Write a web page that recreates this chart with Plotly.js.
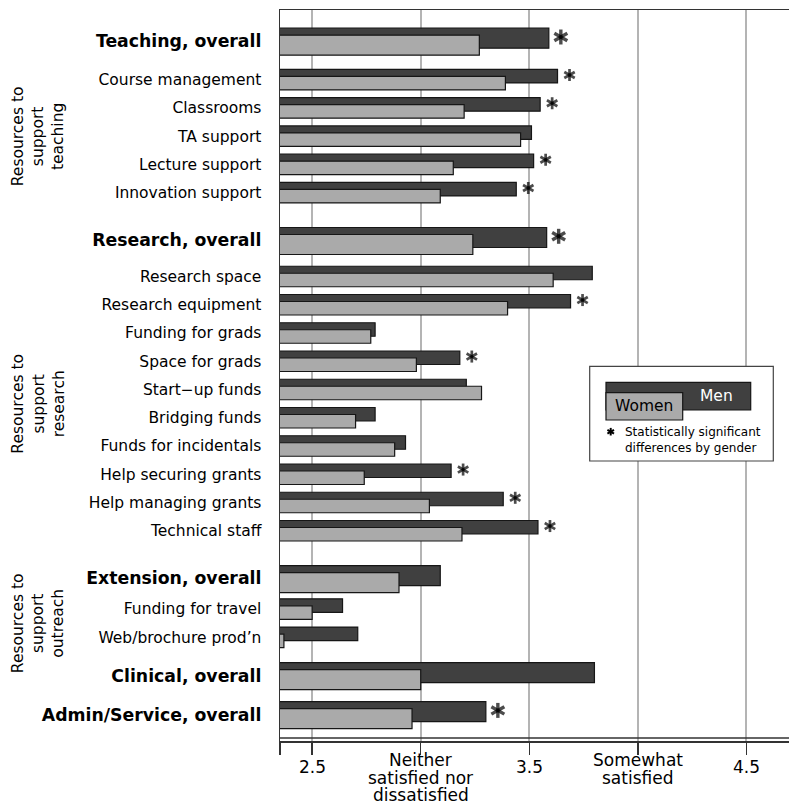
<!DOCTYPE html>
<html>
<head>
<meta charset="utf-8">
<script src="https://cdn.plot.ly/plotly-3.0.1.min.js"></script>
<style>html,body{margin:0;padding:0;background:#fff;}#chart{width:789px;height:801px;}</style>
</head>
<body>
<div id="chart"></div>
<script>
// ---------- DATA ----------
const categories = [
  "Teaching, overall", "Course management", "Classrooms", "TA support", "Lecture support", "Innovation support",
  "Research, overall", "Research space", "Research equipment", "Funding for grads", "Space for grads",
  "Start\u2212up funds", "Bridging funds", "Funds for incidentals", "Help securing grants", "Help managing grants", "Technical staff",
  "Extension, overall", "Funding for travel", "Web/brochure prod\u2019n",
  "Clinical, overall",
  "Admin/Service, overall"
];
const menValues = [3.59, 3.63, 3.55, 3.51, 3.52, 3.44,
                   3.58, 3.79, 3.69, 2.79, 3.18, 3.21, 2.79, 2.93, 3.14, 3.38, 3.54,
                   3.09, 2.64, 2.71,
                   3.80,
                   3.30];
const womenValues = [3.27, 3.39, 3.20, 3.46, 3.15, 3.09,
                     3.24, 3.61, 3.40, 2.77, 2.98, 3.28, 2.70, 2.88, 2.74, 3.04, 3.19,
                     2.90, 2.50, 2.37,
                     3.00,
                     2.96];
const significant = [1, 1, 1, 0, 1, 1,
                     1, 0, 1, 0, 1, 0, 0, 0, 1, 1, 1,
                     0, 0, 0,
                     0,
                     1];
const isOverall = [1, 0, 0, 0, 0, 0,
                   1, 0, 0, 0, 0, 0, 0, 0, 0, 0, 0,
                   1, 0, 0,
                   1,
                   1];
const groupOf = ["teaching","teaching","teaching","teaching","teaching","teaching",
                 "research","research","research","research","research","research","research","research","research","research","research",
                 "outreach","outreach","outreach",
                 "clinical",
                 "admin"];
const groupNames = ["teaching", "research", "outreach"];
const groupTitles = ["Resources to<br>support<br>teaching", "Resources to<br>support<br>research", "Resources to<br>support<br>outreach"];
const xTickVals = [2.5, 3, 3.5, 4, 4.5];
const xTickText = ["2.5", "Neither<br>satisfied nor<br>dissatisfied", "3.5", "Somewhat<br>satisfied", "4.5"];
const legendMen = "Men";
const legendWomen = "Women";
const legendNote = "Statistically significant<br>differences by gender";

// ---------- LAYOUT CONSTANTS ----------
const W = 789, H = 801;
const M = {l: 280, r: 0, t: 10, b: 60};
const X_RANGE = [2.352, 4.696];
const plotW = W - M.l - M.r, plotH = H - M.t - M.b;
const pxPerUnit = plotW / (X_RANGE[1] - X_RANGE[0]);
const px2x = px => (px - M.l) / plotW;          // page px -> paper x
const py2y = py => (H - M.b - py) / plotH;      // page px -> paper y
const FONT = "DejaVu Sans";
const MEN_FILL = "#404040", WOMEN_FILL = "#aaaaaa", EDGE = "#161616";

// y axis is expressed in pixel rows (top of page = 0)
const FIRST_CENTER = 41.7;
const GAP_SUB = 28.25, GAP_GROUP_SUBS = 48.3, GAP_GROUP_NOSUBS = 38.9;
const LEAD_GAP = {teaching: 38, research: 35.5, outreach: 30};
const positions = [];
for (let i = 0; i < categories.length; i++) {
  if (i === 0) { positions.push(FIRST_CENTER); continue; }
  const prev = positions[i - 1];
  if (groupOf[i] !== groupOf[i - 1]) {
    const hasSubs = groupOf.filter(g => g === groupOf[i]).length > 1;
    positions.push(prev + (hasSubs ? GAP_GROUP_SUBS : GAP_GROUP_NOSUBS));
  } else if (isOverall[i - 1]) {
    positions.push(prev + LEAD_GAP[groupOf[i]]);
  } else {
    positions.push(prev + GAP_SUB);
  }
}
const SHIFT = 3.5;
const widths = isOverall.map(o => o ? 20 : 13.5);

const menTrace = {
  type: "bar", orientation: "h", x: menValues, y: positions,
  width: widths, offset: widths.map(w => -SHIFT - w / 2),
  marker: {color: MEN_FILL, line: {color: EDGE, width: 1.2}},
  hoverinfo: "x", name: "Men"
};
const womenTrace = {
  type: "bar", orientation: "h", x: womenValues, y: positions,
  width: widths, offset: widths.map(w => SHIFT - w / 2),
  marker: {color: WOMEN_FILL, line: {color: EDGE, width: 1.2}},
  hoverinfo: "x", name: "Women"
};

// significance asterisks (three rotated strokes each)
const sx = [], sy = [], ss = [], sw = [], sa = [];
categories.forEach((c, i) => {
  if (!significant[i]) return;
  [0, 60, -60].forEach(a => {
    sx.push(menValues[i] + 12 / pxPerUnit);
    sy.push(positions[i] - SHIFT - 1.2);
    ss.push(isOverall[i] ? 10.7 : 8.6);
    sw.push(isOverall[i] ? 3.4 : 2.7);
    sa.push(a);
  });
});
const starTrace = {
  type: "scatter", mode: "markers", x: sx, y: sy, hoverinfo: "skip",
  marker: {symbol: "line-ns-open", size: ss, angle: sa, color: "#000", line: {color: "#000", width: sw}}
};

const tickText = categories.map((c, i) =>
  isOverall[i] ? '<b><span style="font-size:17.3px">' + c + '</span></b>' : c);

const annotations = [];
// x tick labels, one annotation per line for tight line spacing
xTickVals.forEach((v, i) => {
  const lines = xTickText[i].split("<br>");
  lines.forEach((ln, k) => {
    annotations.push({
      x: v, xref: "x", y: py2y(lines.length === 1 ? 767 : 760 + k * 17.7), yref: "paper",
      text: ln, showarrow: false, xanchor: "center", yanchor: "middle",
      font: {family: FONT, size: 17, color: "#000"}
    });
  });
});
// group labels
groupNames.forEach((g, j) => {
  const idx = categories.map((c, i) => i).filter(i => groupOf[i] === g && !isOverall[i]);
  const yc = (positions[idx[0]] + positions[idx[idx.length - 1]]) / 2;
  annotations.push({
    x: px2x(38), xref: "paper", y: yc, yref: "y", text: groupTitles[j], textangle: -90,
    showarrow: false, xanchor: "center", yanchor: "middle", align: "center",
    font: {family: FONT, size: 15.5, color: "#000"}
  });
});
// legend texts
annotations.push({x: 716.7, xref: "x2", y: 396, yref: "y", text: legendMen, showarrow: false,
  xanchor: "center", yanchor: "middle", font: {family: FONT, size: 15.5, color: "#fff"}});
annotations.push({x: 644.3, xref: "x2", y: 406, yref: "y", text: legendWomen, showarrow: false,
  xanchor: "center", yanchor: "middle", font: {family: FONT, size: 15.5, color: "#000"}});
annotations.push({x: 623, xref: "x2", y: 439.5, yref: "y", text: legendNote, showarrow: false,
  xanchor: "left", yanchor: "middle", align: "left", font: {family: FONT, size: 12, color: "#000"}});

const shapes = [
  // inner bottom line of the double rule
  {type: "line", xref: "paper", yref: "y", x0: 0, x1: 1, y0: 738, y1: 738, line: {color: "#333", width: 1.3}, layer: "above"},
  // legend box
  {type: "rect", xref: "x2", yref: "y", x0: 589.7, x1: 773.3, y0: 366.3, y1: 461, fillcolor: "#fff", line: {color: "#444", width: 1.2}, layer: "above"},
  {type: "rect", xref: "x2", yref: "y", x0: 606, x1: 750.7, y0: 382.3, y1: 410, fillcolor: MEN_FILL, line: {color: EDGE, width: 1.2}, layer: "above"},
  {type: "rect", xref: "x2", yref: "y", x0: 606, x1: 682.7, y0: 392.7, y1: 420, fillcolor: WOMEN_FILL, line: {color: EDGE, width: 1.2}, layer: "above"}
];
// legend asterisk: three short strokes
const LS = {x: 610.7, y: 431.7, half: 3.8};
[90, 30, -30].forEach(a => {
  const dx = LS.half * Math.cos(a * Math.PI / 180), dy = LS.half * Math.sin(a * Math.PI / 180);
  shapes.push({type: "line", xref: "x2", yref: "y", x0: LS.x - dx, x1: LS.x + dx, y0: LS.y - dy, y1: LS.y + dy,
    line: {color: "#000", width: 2}, layer: "above"});
});

const layout = {
  width: W, height: H, margin: {l: M.l, r: M.r, t: M.t, b: M.b, pad: 0},
  paper_bgcolor: "#fff", plot_bgcolor: "#fff", showlegend: false, barmode: "overlay",
  font: {family: FONT, color: "#000"},
  xaxis: {
    range: X_RANGE, tickvals: [X_RANGE[0]].concat(xTickVals), showticklabels: false,
    ticks: "outside", ticklen: 12, tickwidth: 1.5, tickcolor: "#333",
    showgrid: true, gridcolor: "#b4b4b4", gridwidth: 2, zeroline: false,
    showline: true, mirror: true, linecolor: "#333", linewidth: 1.5, fixedrange: true
  },
  xaxis2: {overlaying: "x", range: [M.l, W - M.r], visible: false, fixedrange: true},
  yaxis: {
    range: [H - M.b, M.t], tickvals: positions, ticktext: tickText,
    tickfont: {family: FONT, size: 15.5, color: "#000"},
    ticks: "", ticklabelstandoff: 14, showgrid: false, zeroline: false,
    showline: true, linecolor: "#333", linewidth: 1.5, fixedrange: true
  },
  annotations: annotations, shapes: shapes
};

Plotly.newPlot("chart", [menTrace, womenTrace, starTrace], layout, {displayModeBar: false, staticPlot: true});
</script>
</body>
</html>
